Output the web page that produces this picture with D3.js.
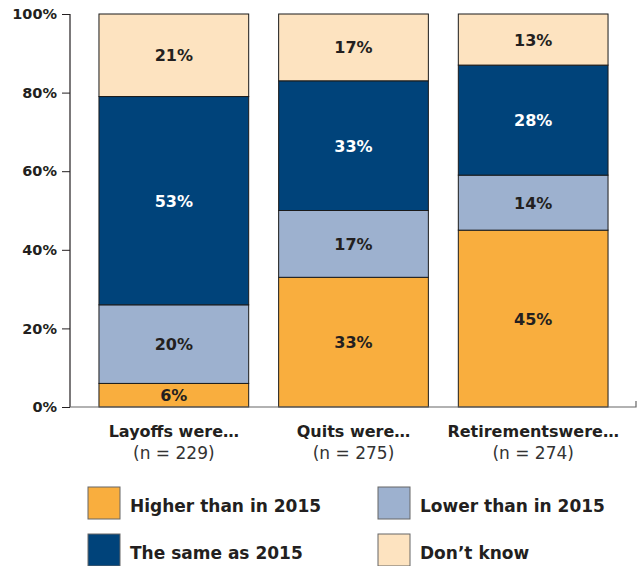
<!DOCTYPE html>
<html><head><meta charset="utf-8">
<script src="https://cdn.jsdelivr.net/npm/d3@7"></script>
<style>body{margin:0;background:#fff}svg{display:block}</style>
</head><body>
<svg id="c" width="637" height="566"></svg>
<script>
const categories = ["Layoffs were…", "Quits were…", "Retirementswere…"];
const sampleLabels = ["(n = 229)", "(n = 275)", "(n = 274)"];
const seriesNames = ["Higher than in 2015", "Lower than in 2015", "The same as 2015", "Don’t know"];
const higher = [6, 33, 45];
const lower = [20, 17, 14];
const same = [53, 33, 28];
const dontKnow = [21, 17, 13];
const yTicks = [0, 20, 40, 60, 80, 100];
const colors = ["#F9AE3E", "#9DB1CF", "#00437A", "#FDE3C0"];
const labelColors = ["#231F20", "#231F20", "#ffffff", "#231F20"];

const svg = d3.select("#c");
const font = "'DejaVu Sans', sans-serif";
const x = d3.scaleBand().domain(categories).range([84, 623]).paddingInner(0.1667).paddingOuter(0.0833);
const y = d3.scaleLinear().domain([0, 100]).range([407, 14]);

const rows = categories.map((c, i) => ({cat: c, v: [higher[i], lower[i], same[i], dontKnow[i]]}));
const keys = [0, 1, 2, 3];
const stack = d3.stack().keys(keys).value((d, k) => d.v[k]);
const stacked = stack(rows);

const g = svg.append("g");
stacked.forEach((layer, li) => {
  layer.forEach(seg => {
    g.append("rect")
      .attr("x", x(seg.data.cat)).attr("width", x.bandwidth())
      .attr("y", y(seg[1])).attr("height", y(seg[0]) - y(seg[1]))
      .attr("fill", colors[li]).attr("stroke", "#1a1a1a").attr("stroke-width", 1);
    g.append("text")
      .attr("x", x(seg.data.cat) + x.bandwidth() / 2)
      .attr("y", (y(seg[0]) + y(seg[1])) / 2 + 6)
      .attr("text-anchor", "middle")
      .attr("font-family", font).attr("font-weight", "bold").attr("font-size", 16)
      .attr("fill", labelColors[li])
      .text(seg[1] - seg[0] + "%");
  });
});

// axes
const yAxis = d3.axisLeft(y).tickValues(yTicks).tickFormat(d => d + "%").tickSize(8).tickPadding(5);
const ya = svg.append("g").attr("transform", "translate(70,0)").call(yAxis);
ya.select(".domain").attr("stroke", "#231F20").attr("stroke-width", 1.2).attr("d", "M0,14V407");
ya.selectAll(".tick line").attr("stroke", "#231F20");
ya.selectAll(".tick text").attr("font-family", font).attr("font-weight", "bold").attr("font-size", 14.5).attr("fill", "#231F20");

svg.append("path").attr("d", "M70,407H636V401").attr("fill", "none").attr("stroke", "#666").attr("stroke-width", 1.2);

// category labels
const xa = svg.append("g");
categories.forEach((c, i) => {
  const cx = x(c) + x.bandwidth() / 2;
  xa.append("text").attr("x", cx).attr("y", 437).attr("text-anchor", "middle")
    .attr("font-family", font).attr("font-weight", "bold").attr("font-size", 16).attr("fill", "#231F20").text(c);
  xa.append("text").attr("x", cx).attr("y", 459).attr("text-anchor", "middle")
    .attr("font-family", font).attr("font-size", 17).attr("fill", "#333").text(sampleLabels[i]);
});

// legend
const legendPos = [[88, 487], [378, 487], [88, 534], [378, 534]];
const legendOrder = [0, 1, 2, 3];
legendOrder.forEach((k, i) => {
  const [lx, ly] = legendPos[i];
  svg.append("rect").attr("x", lx).attr("y", ly).attr("width", 32).attr("height", 32)
    .attr("fill", colors[k]).attr("stroke", "#666").attr("stroke-width", 1);
  svg.append("text").attr("x", lx + 42).attr("y", ly + 25)
    .attr("font-family", font).attr("font-weight", "bold").attr("font-size", 17).attr("fill", "#231F20")
    .text(seriesNames[k]);
});
</script>
</body></html>
